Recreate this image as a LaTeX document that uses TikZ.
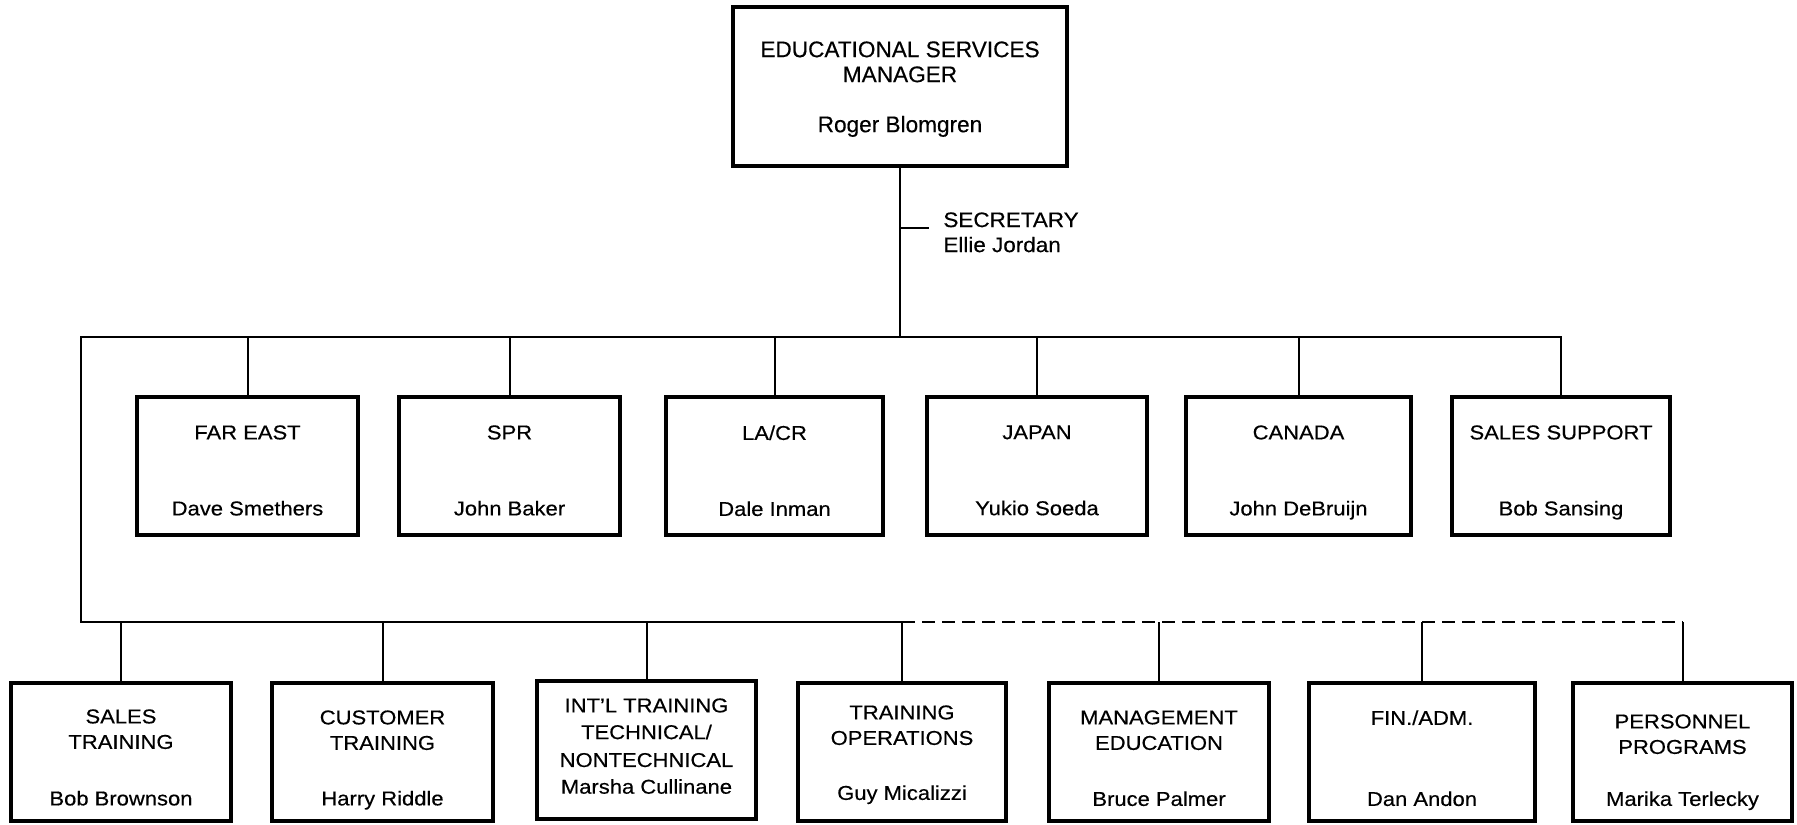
\documentclass[tikz,border=0pt]{standalone}
\usepackage{fontspec}
\setmainfont{Liberation Sans}[FakeBold=0.4]
\newfontfamily\rowf[FakeStretch=1.1,FakeBold=0.4]{Liberation Sans}
\newfontfamily\secf[FakeStretch=1.07,FakeBold=0.4]{Liberation Sans}
\begin{document}
\begin{tikzpicture}[x=0.5pt,y=-0.5pt,
  box/.style={draw, rectangle, line width=1.7pt, inner sep=0pt},
  conn/.style={line width=1pt},
  dashconn/.style={line width=1pt, dash pattern=on 6.5pt off 3.5pt},
  txt/.style={anchor=north, inner sep=0pt, align=center, font=\rowf\fontsize{10}{12.75}\selectfont},
  toptxt/.style={anchor=north, inner sep=0pt, align=center, font=\fontsize{11.3}{12.5}\selectfont},
  sectxt/.style={anchor=north west, inner xsep=7pt, inner ysep=0pt, align=left, font=\secf\fontsize{10.5}{12.5}\selectfont},
  r1/.style={box, minimum height=69pt},
  r2/.style={box, minimum height=69pt}]
\fill[white] (0,0) rectangle (1797,824);
\path[use as bounding box] (0,0) rectangle (1797,824);

% top box
\node[box, minimum width=167pt, minimum height=79.5pt] (top) at (900,86.5) {};
\node[toptxt] (top-t) at (900,41) {EDUCATIONAL SERVICES\\MANAGER\\[12.5pt]Roger Blomgren};

% secretary
\node[sectxt] (sec) at (929,212) {SECRETARY\\Ellie Jordan};
\coordinate (sectick) at (900,228);

% row 1
\node[r1, minimum width=110.5pt] (fe) at (247.5,466) {};
\node[r1, minimum width=110.5pt] (spr) at (509.5,466) {};
\node[r1, minimum width=108.5pt] (la) at (774.5,466) {};
\node[r1, minimum width=110pt] (jp) at (1037,466) {};
\node[r1, minimum width=112.5pt] (ca) at (1298.5,466) {};
\node[r1, minimum width=109pt] (ss) at (1561,466) {};
\node[txt] (fe-t) at (247.5,425) {FAR EAST\\[25.25pt]Dave Smethers};
\node[txt] (spr-t) at (509.5,425) {SPR\\[25.25pt]John Baker};
\node[txt] (la-t) at (774.5,425) {LA/CR\\[25.25pt]Dale Inman};
\node[txt] (jp-t) at (1037,425) {JAPAN\\[25.25pt]Yukio Soeda};
\node[txt] (ca-t) at (1298.5,425) {CANADA\\[25.25pt]John DeBruijn};
\node[txt] (ss-t) at (1561,425) {SALES SUPPORT\\[25.25pt]Bob Sansing};

% row 2
\node[r2, minimum width=110pt] (st) at (121,752) {};
\node[r2, minimum width=110.5pt] (ct) at (382.5,752) {};
\node[r2, minimum width=109.5pt] (int) at (646.5,750) {};
\node[r2, minimum width=104pt] (to) at (902,752) {};
\node[r2, minimum width=110pt] (me) at (1159,752) {};
\node[r2, minimum width=113pt] (fa) at (1422,752) {};
\node[r2, minimum width=109.5pt] (pp) at (1682.5,752) {};
\node[txt] (st-t) at (121,709) {SALES\\TRAINING\\[15.5pt]Bob Brownson};
\node[txt] (ct-t) at (382.5,710) {CUSTOMER\\TRAINING\\[15pt]Harry Riddle};
\node[txt] (int-t) at (646.5,698) {INT’L TRAINING\\[0.6pt]TECHNICAL/\\[1.2pt]NONTECHNICAL\\[0.6pt]Marsha Cullinane};
\node[txt] (to-t) at (902,705) {TRAINING\\OPERATIONS\\[14.75pt]Guy Micalizzi};
\node[txt] (me-t) at (1159,710) {MANAGEMENT\\EDUCATION\\[15.25pt]Bruce Palmer};
\node[txt] (fa-t) at (1422,710) {FIN./ADM.\\[27.75pt]Dan Andon};
\node[txt] (pp-t) at (1682.5,714) {PERSONNEL\\PROGRAMS\\[13.25pt]Marika Terlecky};

% bus coordinates
\coordinate (busA) at (81,337);
\coordinate (busB) at (81,622);

% connectors
\draw[conn] (top.south) -- (top.south |- busA);
\draw[conn] (sectick) -- (sec.west |- sectick);
\draw[conn] (ss.north) |- (busA) -- (busB) -| (to.north);
\foreach \n in {fe,spr,la,jp,ca}
  \draw[conn] (\n.north) -- (\n.north |- busA);
\foreach \n in {st,ct,int}
  \draw[conn] (\n.north) -- (\n.north |- busB);
\draw[dashconn] (to.north |- busB) -- (pp.north |- busB);
\foreach \n in {me,fa,pp}
  \draw[conn] (\n.north) -- (\n.north |- busB);
\end{tikzpicture}
\end{document}
